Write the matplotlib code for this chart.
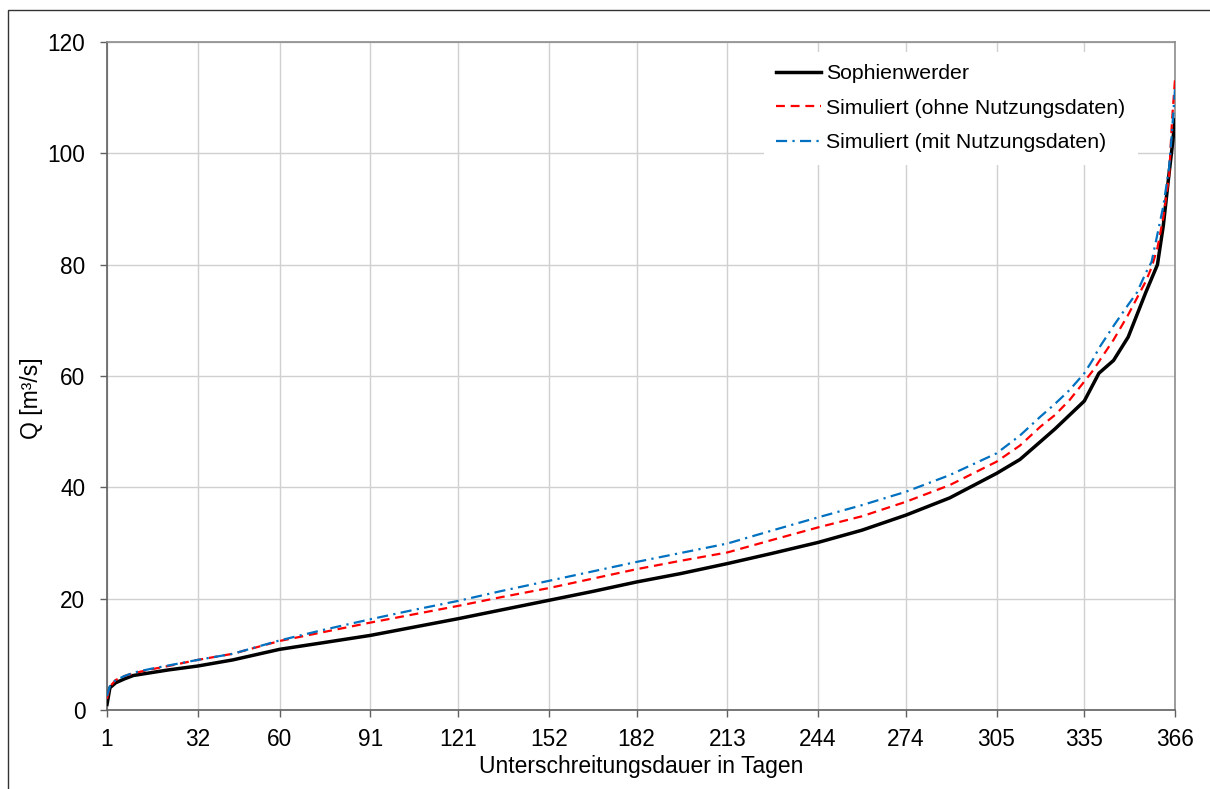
import matplotlib
matplotlib.use("Agg")
import matplotlib.pyplot as plt
from matplotlib.patches import Rectangle

plt.rcParams['font.family'] = ['Liberation Sans', 'DejaVu Sans']

days = [1, 2, 4, 7, 10, 16, 22, 32, 44, 60, 75, 91, 106, 121, 136, 152, 167, 182,
        197, 213, 228, 244, 259, 274, 289, 305, 313, 320, 325, 330, 335, 338, 340,
        345, 350, 353, 356, 358, 360, 362, 364, 365, 366]

sophienwerder = [1.0, 4.0, 4.9, 5.6, 6.2, 6.7, 7.2, 7.9, 9.0, 10.9, 12.1, 13.4, 14.9,
                 16.4, 18.0, 19.7, 21.3, 23.0, 24.5, 26.3, 28.1, 30.1, 32.3, 35.0,
                 38.1, 42.5, 45.0, 48.2, 50.5, 53.0, 55.5, 58.5, 60.5, 62.8, 67.0,
                 71.0, 75.0, 77.5, 80.0, 87.0, 96.5, 101.0, 106.0]

sim_ohne = [2.0, 4.2, 5.4, 6.1, 6.6, 7.3, 7.9, 9.0, 10.1, 12.4, 14.0, 15.7, 17.2, 18.7,
            20.3, 21.9, 23.6, 25.3, 26.8, 28.3, 30.5, 32.8, 34.8, 37.4, 40.4, 44.6,
            47.5, 50.9, 53.0, 55.7, 59.0, 61.0, 62.6, 66.5, 71.0, 74.0, 77.0, 79.5,
            83.0, 88.5, 96.0, 106.0, 113.3]

sim_mit = [2.5, 4.3, 5.4, 6.1, 6.7, 7.4, 8.0, 9.0, 10.1, 12.5, 14.4, 16.3, 18.0, 19.6,
           21.4, 23.2, 24.9, 26.6, 28.2, 29.9, 32.2, 34.6, 36.8, 39.2, 42.2, 46.1,
           49.3, 52.7, 55.0, 57.5, 60.5, 63.0, 65.0, 69.0, 72.8, 75.0, 78.5, 80.5,
           85.5, 90.5, 97.5, 104.0, 111.5]

xticks = [1, 32, 60, 91, 121, 152, 182, 213, 244, 274, 305, 335, 366]
yticks = [0, 20, 40, 60, 80, 100, 120]

labels = ['Sophienwerder', 'Simuliert (ohne Nutzungsdaten)', 'Simuliert (mit Nutzungsdaten)']

fig = plt.figure(figsize=(12.10, 7.89), dpi=100)
ax = fig.add_axes([107/1210, 79/789, 1068/1210, 668/789])

ax.plot(days, sophienwerder, color='black', lw=2.5, label=labels[0], zorder=3)
ax.plot(days, sim_ohne, color='#FF0000', lw=1.6, dashes=(4, 2.6), label=labels[1], zorder=4)
ax.plot(days, sim_mit, color='#0070C0', lw=1.6, dashes=(5, 2.4, 1, 2.4), label=labels[2], zorder=5)

ax.set_xlim(1, 366)
ax.set_ylim(0, 120)
ax.set_xticks(xticks)
ax.set_yticks(yticks)
ax.grid(True, color='#D0D0D0', lw=1.0)
ax.set_axisbelow(True)

for s in ['top', 'right']:
    ax.spines[s].set_color('#8C8C8C')
for s in ['left', 'bottom']:
    ax.spines[s].set_color('#606060')
for s in ax.spines.values():
    s.set_linewidth(1.2)

ax.tick_params(axis='both', direction='out', length=5, width=1, color='#606060',
               labelsize=16.3)
ax.tick_params(axis='y', pad=10.5)
ax.tick_params(axis='x', pad=8)

ax.set_xlabel('Unterschreitungsdauer in Tagen', fontsize=16.5)
ax.set_ylabel('Q [m³/s]', fontsize=16.5)
ax.xaxis.set_label_coords(0.5, -0.068)
ax.yaxis.set_label_coords(-0.06, 0.467)

leg = ax.legend(loc='upper left', bbox_to_anchor=(646/1068, 1 + 1/668), fontsize=15.3,
                frameon=True, facecolor='white', edgecolor='none', framealpha=1,
                fancybox=False, handlelength=2.1, handletextpad=0.25,
                labelspacing=0.72, borderpad=0.6)

fig.add_artist(Rectangle((8/1210, -0.1), 1.2, (789-10)/789 + 0.1, transform=fig.transFigure,
                         fill=False, edgecolor='#333333', lw=1.0, clip_on=False))

fig.savefig('out.png', dpi=100)
